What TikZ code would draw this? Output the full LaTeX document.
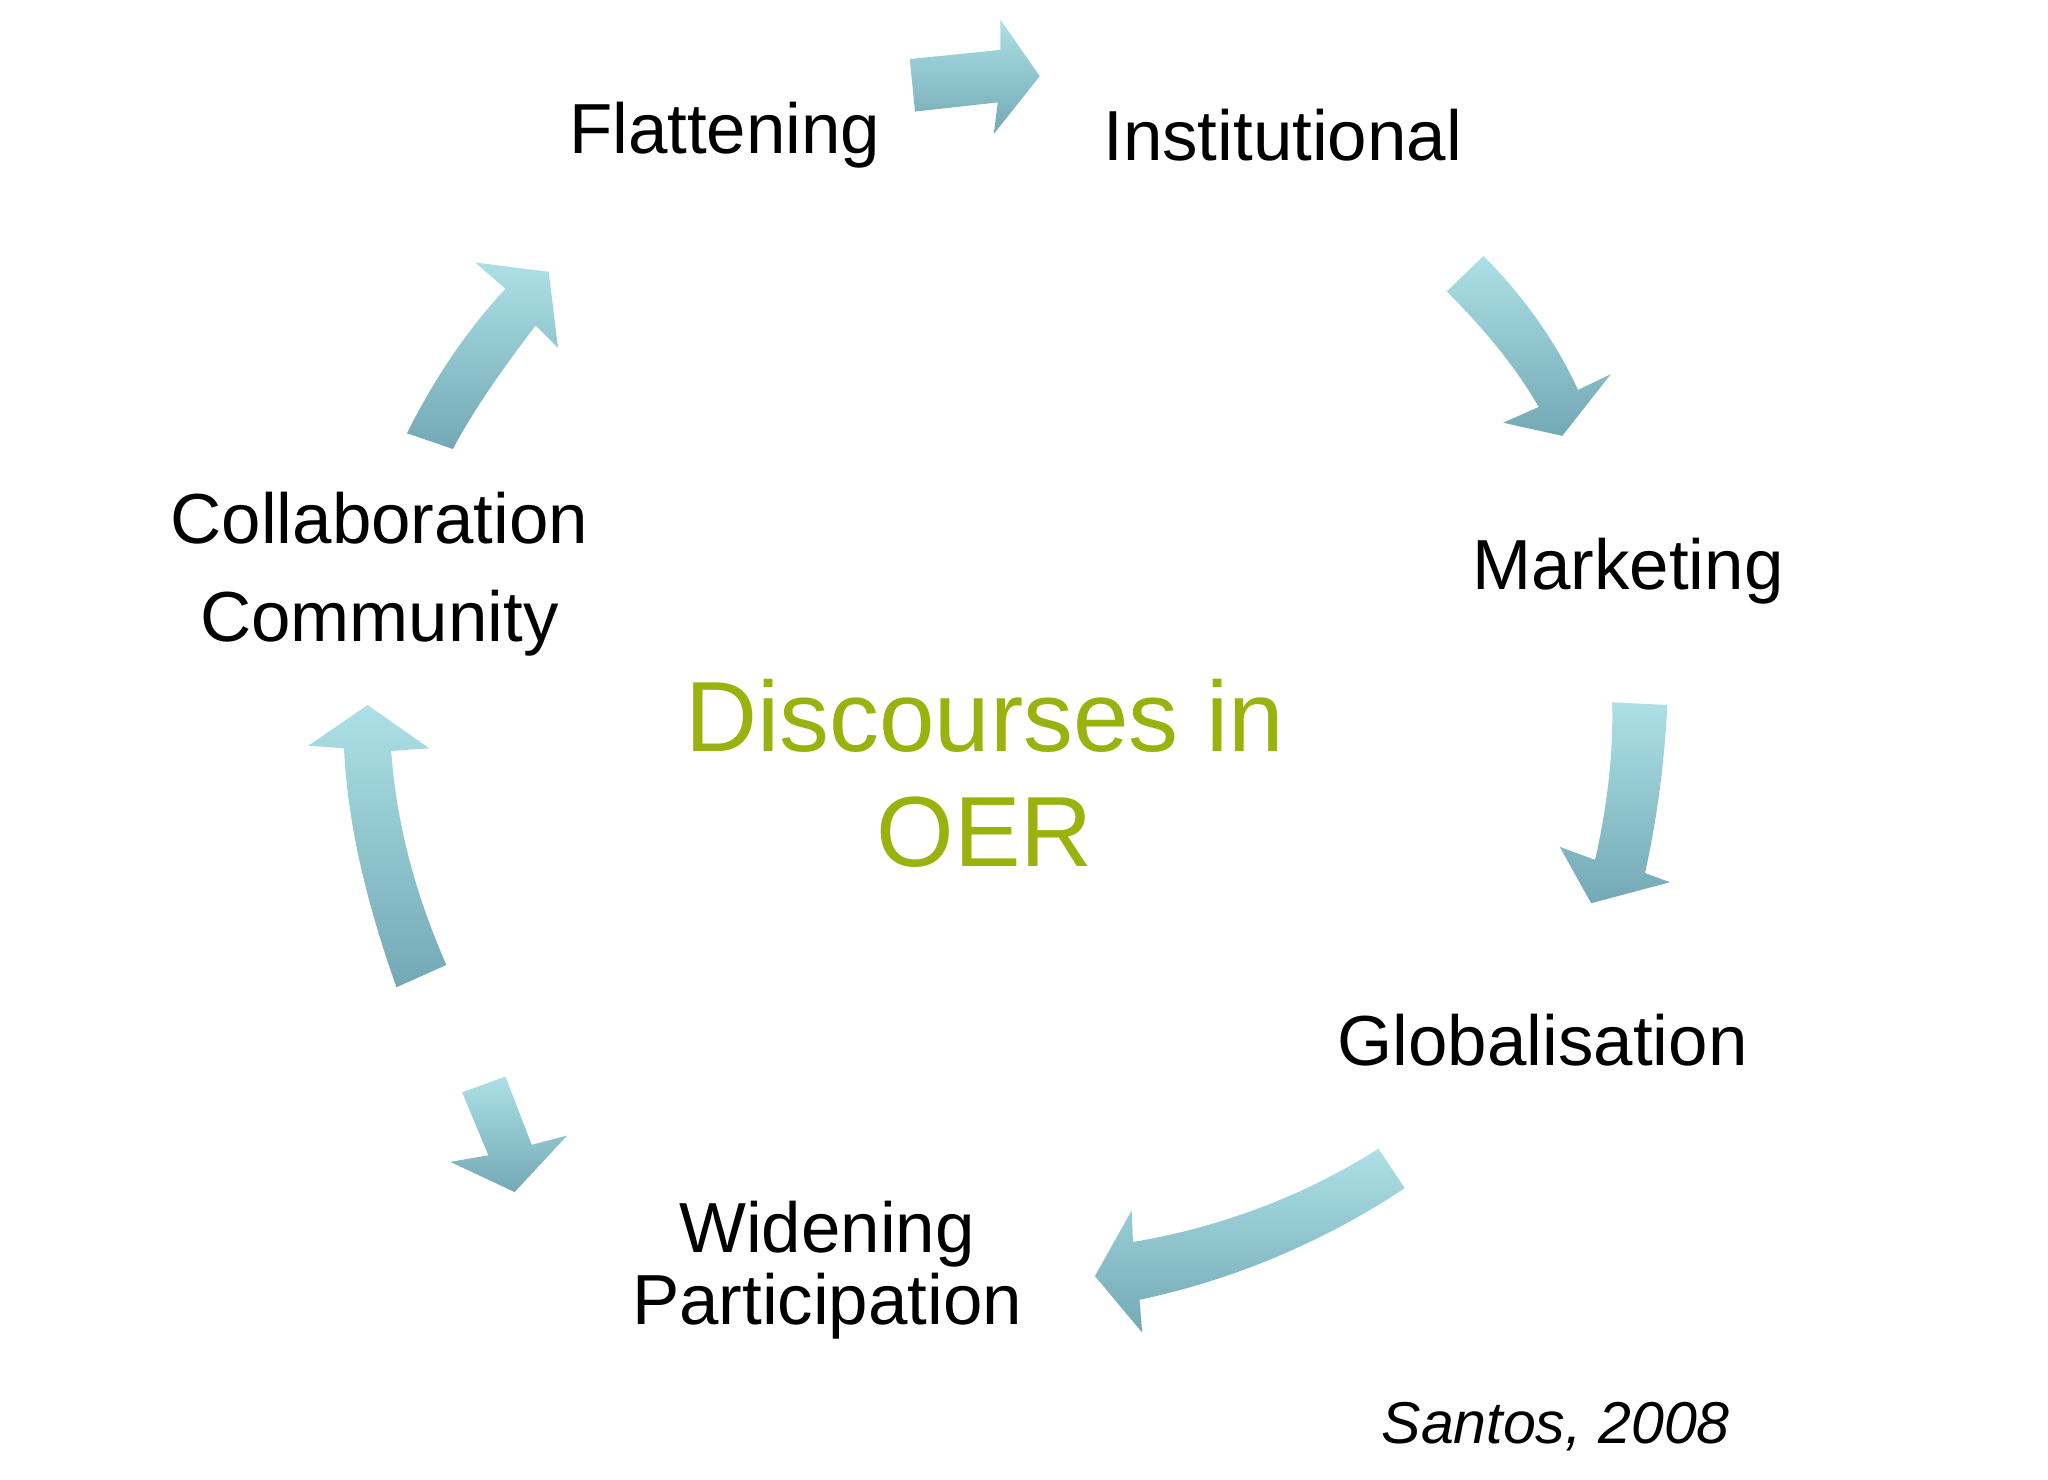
\documentclass[tikz,border=0pt]{standalone}
\usepackage{fontspec}
\setmainfont{Liberation Sans}
\begin{document}
\begin{tikzpicture}[x=1pt,y=-1pt]
\tikzset{
 blk/.style={top color={rgb,1:red,0.68;green,0.88;blue,0.9}, bottom color={rgb,1:red,0.45;green,0.66;blue,0.71}, draw=none},
 lbl/.style={font=\fontsize{54}{60}\selectfont, text=black},
}
\useasboundingbox[fill=white] (0,0) rectangle (1560,1127);
% arrows
\path[blk] (693,45) -- (762,38) -- (762,15) -- (792,58) -- (757,102) -- (760,78) -- (697,85) -- cycle;
\path[blk] (1102,222) -- (1130,195) .. controls (1160,225) and (1185,260) .. (1202,297) -- (1227,285) -- (1190,332) -- (1145,322) -- (1172,310) .. controls (1155,280) and (1130,250) .. (1102,222) -- cycle;
\path[blk] (1228,535) -- (1270,537) .. controls (1268,580) and (1262,625) .. (1253,665) -- (1272,672) -- (1212,688) -- (1188,645) -- (1215,655) .. controls (1224,615) and (1229,575) .. (1228,535) -- cycle;
\path[blk] (1050,875) -- (1070,905) .. controls (1010,945) and (940,975) .. (868,990) -- (870,1015) -- (834,972) -- (862,922) -- (863,946) .. controls (930,935) and (995,910) .. (1050,875) -- cycle;
\path[blk] (352,832) -- (385,820) -- (405,872) -- (432,865) -- (392,908) -- (343,885) -- (372,880) -- cycle;
\path[blk] (302,752) .. controls (280,690) and (265,630) .. (262,570) -- (235,568) -- (280,537) -- (327,570) -- (298,572) .. controls (302,630) and (318,685) .. (340,735) -- cycle;
\path[blk] (310,330) .. controls (330,290) and (355,252) .. (385,220) -- (362,200) -- (418,207) -- (425,265) -- (408,248) .. controls (385,278) and (362,310) .. (345,342) -- cycle;
% labels
\node[lbl] (fl) at (552,103) {Flattening};
\node[lbl] (in) at (977,103) {Institutional};
\node[lbl] (mk) at (1240,435) {Marketing};
\node[lbl] (gl) at (1175,792) {Globalisation};
\node[lbl] (wi) at (630,940) {Widening};
\node[lbl] (pa) at (630,995) {Participation};
\node[lbl] (co) at (289,395) {Collaboration};
\node[lbl] (cm) at (289,475) {Community};
\node[font=\fontsize{76}{82}\selectfont, text={rgb,1:red,0.6;green,0.7;blue,0.05}] (d1) at (750,545) {Discourses in};
\node[font=\fontsize{76}{82}\selectfont, text={rgb,1:red,0.6;green,0.7;blue,0.05}] (d2) at (750,634) {OER};
\node[font=\fontsize{45}{50}\selectfont\itshape] (sa) at (1185,1087) {Santos, 2008};
\end{tikzpicture}
\end{document}
